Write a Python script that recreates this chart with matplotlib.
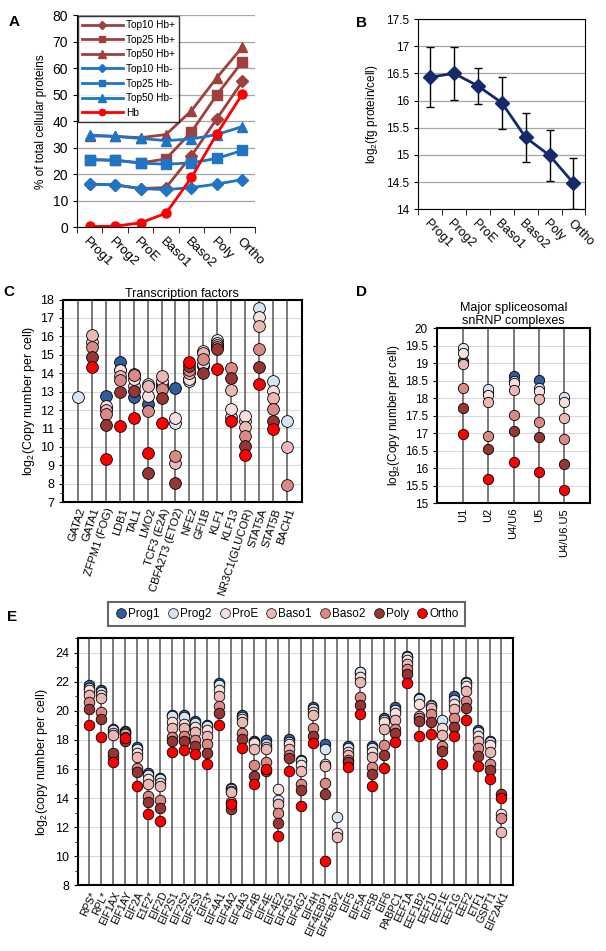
import numpy as np
import matplotlib
matplotlib.use('Agg')
import matplotlib.pyplot as plt
from matplotlib.lines import Line2D
from matplotlib.ticker import MultipleLocator, FuncFormatter

plt.rcParams['font.family'] = ['Liberation Sans', 'DejaVu Sans']
plt.rcParams['mathtext.fontset'] = 'custom'
plt.rcParams['mathtext.rm'] = 'Liberation Sans'
plt.rcParams['mathtext.it'] = 'Liberation Sans:italic'

nan = np.nan

# ---- shared stages ----
stages = ['Prog1', 'Prog2', 'ProE', 'Baso1', 'Baso2', 'Poly', 'Ortho']
stage_colors = ['#2E5E9B', '#D6E4F4', '#F8E0DE', '#EAB9B6', '#D98A86', '#963634', '#FF0000']

# ---- panel A ----
top10_hbp = [16.3, 16.0, 14.6, 15.0, 27.0, 41.0, 55.0]
top25_hbp = [25.5, 25.3, 24.3, 25.8, 36.0, 50.0, 62.5]
top50_hbp = [34.5, 34.3, 33.8, 35.0, 44.0, 56.5, 68.0]
top10_hbm = [16.3, 16.0, 14.6, 14.2, 15.0, 16.3, 18.0]
top25_hbm = [25.5, 25.3, 24.2, 23.8, 24.3, 26.0, 29.0]
top50_hbm = [34.8, 34.3, 33.5, 32.7, 33.3, 35.0, 38.0]
hb = [0.3, 0.4, 1.7, 5.3, 18.8, 35.3, 50.3]

# ---- panel B ----
b_mean = [16.43, 16.50, 16.27, 15.96, 15.32, 14.99, 14.48]
b_err = [0.55, 0.49, 0.33, 0.48, 0.45, 0.47, 0.47]

# ---- panel C ----
tf_labels = ['GATA2', 'GATA1', 'ZFPM1 (FOG)', 'LDB1', 'TAL1', 'LMO2', 'TCF3 (E2A)',
             'CBFA2T3 (ETO2)', 'NFE2', 'GFI1B', 'KLF1', 'KLF13', 'NR3C1(GLUCOR)',
             'STAT5A', 'STAT5B', 'BACH1']
tf_prog1 = [nan, nan, 12.79, 14.6, 12.7, 12.35, 13.4, 13.2, 13.7, 14.4, nan, nan, nan, nan, nan, nan]
tf_prog2 = [12.7, nan, 12.1, 14.2, 13.3, 13.42, 13.3, 11.3, 13.6, 14.5, 15.78, 11.6, 11.4, 17.55, 13.6, 11.38]
tf_proe = [nan, 15.7, 12.2, 14.18, 13.7, 12.74, 13.6, 11.55, 13.7, 15.23, 15.65, 12.06, 11.65, 17.04, 13.06, nan]
tf_baso1 = [nan, 16.05, 12.0, 13.85, 13.96, 13.28, 13.83, 9.13, 14.0, 15.1, 15.55, 13.1, 11.07, 16.55, 12.66, 9.99]
tf_baso2 = [nan, 15.4, 11.8, 13.64, 13.9, 11.95, 13.17, 9.5, 14.2, 14.75, 15.45, 14.3, 10.6, 15.32, 12.07, 7.91]
tf_poly = [nan, 14.9, 11.2, 13.0, 13.06, 8.57, 12.67, 8.05, 14.4, 14.0, 15.3, 13.75, 10.07, 14.36, 11.38, nan]
tf_ortho = [nan, 14.34, 9.35, 11.11, 11.56, 9.68, 11.3, nan, 14.6, nan, 14.24, 11.4, 9.57, 13.42, 10.98, nan]

# ---- panel D ----
sn_labels = ['U1', 'U2', 'U4/U6', 'U5', 'U4/U6.U5']
sn_prog1 = [19.05, 18.15, 18.62, 18.52, nan]
sn_prog2 = [19.42, 18.27, 18.5, 18.3, 18.02]
sn_proe = [19.3, 18.08, 18.42, 18.2, 17.88]
sn_baso1 = [18.97, 17.88, 18.22, 17.98, 17.43]
sn_baso2 = [18.28, 16.93, 17.52, 17.33, 16.83]
sn_poly = [17.73, 16.55, 17.07, 16.9, 16.13]
sn_ortho = [16.98, 15.7, 16.17, 15.88, 15.37]

# ---- panel E ----
tl_labels = ['RPS*', 'RPL*', 'EIF1AX', 'EIF1AY', 'EIF2A', 'E1F2*', 'EIF2D', 'EIF2S1', 'EIF2S2',
             'EIF2S3', 'EIF3*', 'EIF4A1', 'EIF4A2', 'EIF4A3', 'EIF4B', 'EIF4E', 'EIF4E2', 'EIF4G1',
             'EIF4G2', 'EIF4H', 'EIF4EBP1', 'EIF4EBP2', 'EIF5', 'EIF5A', 'EIF5B', 'EIF6', 'PABPC1',
             'EEF1A', 'EEF1B2', 'EEF1D', 'EEF1E', 'EEF1G', 'EEF2', 'ETF1', 'GSPT1', 'EIF2AK1']
tl_prog1 = [21.75, 21.4, 18.75, 18.6, 17.5, 15.75, 15.4, 19.7, 19.7, 19.3, 19.0, 21.9, 14.7, 19.7,
            17.95, 18.0, nan, 18.05, 16.65, 20.25, 17.7, nan, 17.6, 22.7, 17.55, 19.5, 20.25, 23.8,
            20.85, nan, nan, 21.0, 22.0, 18.65, 17.9, nan]
tl_prog2 = [21.6, 21.3, 18.65, 18.55, 17.35, 15.6, 15.3, 19.65, 19.6, 19.15, 18.95, 21.8, 14.6, 19.6,
            17.85, 17.7, 13.9, 17.85, 16.55, 20.1, 17.35, 12.7, 17.45, 22.65, 17.45, 19.4, 20.05, 23.7,
            20.8, 20.4, 19.4, 20.75, 21.9, 18.55, 17.85, nan]
tl_proe = [21.4, 21.1, 18.5, 18.45, 17.1, 15.3, 15.05, 19.2, 19.1, 18.9, 18.7, 21.45, 14.5, 19.45,
           17.8, 17.5, 14.6, 17.7, 16.3, 19.95, 16.35, 11.6, 17.2, 22.35, 17.2, 19.25, 19.85, 23.5,
           20.45, 20.3, 18.85, 20.45, 21.7, 18.3, 17.65, 12.9]
tl_baso1 = [21.1, 20.85, 18.35, 18.4, 16.85, 15.0, 14.8, 18.8, 18.8, 18.55, 18.3, 21.0, 14.4, 19.2,
            17.4, 17.35, 13.6, 17.4, 15.85, 19.7, 16.2, 11.35, 16.95, 21.95, 16.8, 18.75, 19.4, 23.2,
            19.65, 20.2, 18.35, 20.1, 21.35, 17.95, 17.15, 11.65]
tl_baso2 = [20.6, 19.95, 16.85, 18.2, 16.1, 14.15, 13.85, 18.2, 18.3, 18.0, 17.75, 20.3, 13.7, 18.45,
            16.3, 16.45, 13.0, 16.95, 14.95, 18.85, 15.05, nan, 16.65, 20.95, 16.15, 17.65, 18.75, 22.85,
            19.5, 19.75, 17.6, 19.5, 20.7, 17.45, 16.35, 12.6]
tl_poly = [20.1, 19.45, 17.1, 17.95, 15.8, 13.7, 13.3, 17.95, 17.95, 17.6, 17.1, 19.85, 13.25, 18.05,
           15.5, 15.85, 12.3, 16.75, 14.55, 18.3, 14.25, nan, 16.45, 20.4, 15.65, 16.95, 18.45, 22.55,
           19.3, 19.2, 17.25, 18.9, 20.2, 16.9, 15.9, 14.25]
tl_ortho = [19.05, 18.2, 16.45, 18.1, 14.85, 12.9, 12.45, 17.2, 17.3, 17.05, 16.35, 19.05, 13.6, 17.45,
            14.95, 16.0, 11.4, 15.85, 13.45, 17.8, 9.7, nan, 16.15, 19.8, 14.8, 16.05, 17.85, 21.9,
            18.25, 18.4, 16.35, 18.3, 19.4, 16.2, 15.3, 14.0]


def excel_fmt(v, pos):
    return ('%g' % v)


def category_axis(ax, n, rot, size):
    x = np.arange(n)
    ax.set_xlim(-0.5, n - 0.5)
    ax.set_xticks(x)
    ax.set_xticklabels(stages, rotation=rot, ha='left', va='top', rotation_mode='anchor', fontsize=size)
    ax.tick_params(axis='x', length=0, pad=6)
    ax.set_xticks(np.arange(n + 1) - 0.5, minor=True)
    ax.tick_params(axis='x', which='minor', length=4, direction='out')


def dot_panel(ax, labels, series, size):
    x = np.arange(len(labels))
    for xi in x:
        ax.axvline(xi, color='#555555', lw=1.1, zorder=1)
    for vals, col in zip(series, stage_colors):
        ax.scatter(x, vals, s=size, c=col, edgecolors='black', linewidths=0.6, zorder=3)
    ax.yaxis.grid(True, color='#d9d9d9', lw=0.8)
    ax.set_axisbelow(True)
    for sp in ax.spines.values():
        sp.set_linewidth(1.5)
    ax.set_xticks(x)
    ax.tick_params(axis='x', length=0)
    ax.tick_params(axis='y', which='both', direction='out')


fig = plt.figure(figsize=(6.06, 9.51), dpi=100)

# ---------------- A ----------------
axA = fig.add_axes([0.127, 0.761, 0.294, 0.223])
xa = np.arange(7)
brown = '#A0403C'
blue = '#1F74C6'
axA.plot(xa, top10_hbp, color=brown, lw=2, marker='D', ms=6.5, label='Top10 Hb+')
axA.plot(xa, top25_hbp, color=brown, lw=2, marker='s', ms=6.5, label='Top25 Hb+')
axA.plot(xa, top50_hbp, color=brown, lw=2, marker='^', ms=7.5, label='Top50 Hb+')
axA.plot(xa, top10_hbm, color=blue, lw=2, marker='D', ms=6.5, label='Top10 Hb-')
axA.plot(xa, top25_hbm, color=blue, lw=2, marker='s', ms=6.5, label='Top25 Hb-')
axA.plot(xa, top50_hbm, color=blue, lw=2, marker='^', ms=7.5, label='Top50 Hb-')
axA.plot(xa, hb, color='#FF0000', lw=2, marker='o', ms=6.5, label='Hb')
axA.set_ylim(0, 80)
axA.yaxis.set_major_locator(MultipleLocator(10))
axA.tick_params(axis='y', labelsize=10, length=3)
axA.yaxis.grid(True, color='#a6a6a6', lw=0.9)
axA.set_axisbelow(True)
axA.spines['top'].set_visible(False)
axA.spines['right'].set_visible(False)
category_axis(axA, 7, -45, 9.5)
axA.set_ylabel('% of total cellular proteins', fontsize=8.5)
legA = axA.legend(loc='upper left', bbox_to_anchor=(0.0, 1.0), fontsize=7.3, frameon=True,
                  fancybox=False, edgecolor='black', handlelength=4.0, borderpad=0.4,
                  labelspacing=0.45, handletextpad=0.3, borderaxespad=0.1, markerscale=0.7)
legA.get_frame().set_linewidth(1.0)
fig.text(0.023, 0.977, 'A', fontsize=11, fontweight='bold', ha='center', va='center')

# ---------------- B ----------------
axB = fig.add_axes([0.690, 0.780, 0.276, 0.200])
navy = '#16296B'
axB.errorbar(xa, b_mean, yerr=b_err, color=navy, lw=2, marker='D', ms=7.5,
             ecolor='black', elinewidth=1, capsize=3, capthick=1)
axB.set_ylim(14, 17.5)
axB.yaxis.set_major_locator(MultipleLocator(0.5))
axB.yaxis.set_major_formatter(FuncFormatter(excel_fmt))
axB.tick_params(axis='y', labelsize=8.5, length=3)
axB.yaxis.grid(True, color='#a6a6a6', lw=0.9)
axB.set_axisbelow(True)
category_axis(axB, 7, -45, 9)
axB.set_ylabel(r'log$_\mathregular{2}$(fg protein/cell)', fontsize=8.5)
fig.text(0.596, 0.976, 'B', fontsize=11, fontweight='bold', ha='center', va='center')

# ---------------- C ----------------
axC = fig.add_axes([0.104, 0.472, 0.394, 0.213])
dot_panel(axC, tf_labels, [tf_prog1, tf_prog2, tf_proe, tf_baso1, tf_baso2, tf_poly, tf_ortho], 72)
axC.set_xlim(-1.08, 16.08)
axC.set_ylim(7, 18)
axC.yaxis.set_major_locator(MultipleLocator(1))
axC.yaxis.set_minor_locator(MultipleLocator(0.5))
axC.set_xticklabels(tf_labels, rotation=72, ha='right', va='top', rotation_mode='anchor', fontsize=8)
axC.tick_params(axis='y', labelsize=9, length=3)
axC.tick_params(axis='y', which='minor', length=2)
axC.set_title('Transcription factors', fontsize=9, pad=2)
axC.set_ylabel(r'log$_\mathregular{2}$(Copy number per cell)', fontsize=9, labelpad=2)
fig.text(0.014, 0.693, 'C', fontsize=11, fontweight='bold', ha='center', va='center')

# ---------------- D ----------------
axD = fig.add_axes([0.721, 0.471, 0.253, 0.184])
dot_panel(axD, sn_labels, [sn_prog1, sn_prog2, sn_proe, sn_baso1, sn_baso2, sn_poly, sn_ortho], 55)
axD.set_xlim(-1.03, 5.03)
axD.set_ylim(15, 20)
axD.yaxis.set_major_locator(MultipleLocator(0.5))
axD.yaxis.set_major_formatter(FuncFormatter(excel_fmt))
axD.set_xticklabels(sn_labels, rotation=90, ha='center', va='top', fontsize=8)
axD.tick_params(axis='y', labelsize=8.5, length=3)
axD.set_title('Major spliceosomal\nsnRNP complexes', fontsize=9, pad=3, linespacing=1.1)
axD.set_ylabel(r'log$_\mathregular{2}$(Copy number per cell)', fontsize=8.5, labelpad=2)
fig.text(0.597, 0.693, 'D', fontsize=11, fontweight='bold', ha='center', va='center')

# ---------------- E ----------------
axE = fig.add_axes([0.129, 0.069, 0.718, 0.260])
dot_panel(axE, tl_labels, [tl_prog1, tl_prog2, tl_proe, tl_baso1, tl_baso2, tl_poly, tl_ortho], 58)
axE.set_xlim(-0.96, 36.02)
axE.set_ylim(8, 25)
axE.set_yticks(np.arange(8, 25, 2))
axE.yaxis.set_minor_locator(MultipleLocator(1))
axE.set_xticklabels(tl_labels, rotation=65, ha='right', va='top', rotation_mode='anchor', fontsize=7.5)
axE.tick_params(axis='y', labelsize=9, length=3)
axE.tick_params(axis='y', which='minor', length=2)
axE.set_ylabel(r'log$_\mathregular{2}$(copy number per cell)', fontsize=9)
fig.text(0.02, 0.351, 'E', fontsize=11, fontweight='bold', ha='center', va='center')

handles = [Line2D([], [], ls='none', marker='o', ms=7, mfc=c, mec='black', mew=0.5) for c in stage_colors]
legE = fig.legend(handles, stages, loc='center', bbox_to_anchor=(0.178, 0.341, 0.589, 0.026),
                  mode='expand', ncol=7, fontsize=8.5, frameon=True, fancybox=False,
                  edgecolor='#404040', handletextpad=0.0, columnspacing=0.4, borderaxespad=0,
                  handlelength=1.2, borderpad=0.5)
legE.get_frame().set_linewidth(1.5)

fig.savefig('out.png', dpi=100)
